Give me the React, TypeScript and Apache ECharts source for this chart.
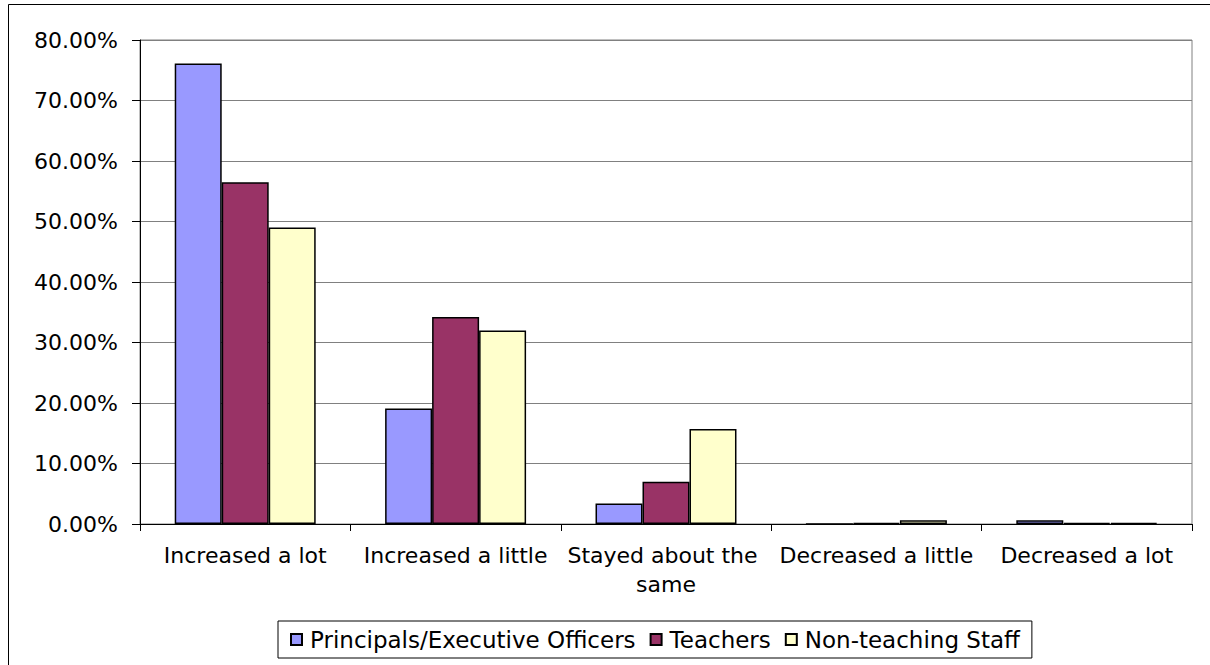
import React, { useEffect, useRef } from "react";
import * as echarts from "echarts";

const categories = [
  "Increased a lot",
  "Increased a little",
  "Stayed about the same",
  "Decreased a little",
  "Decreased a lot",
];
const principals = [76.1, 19.1, 3.4, 0, 0.6];
const teachers = [56.5, 34.2, 7.0, 0.2, 0.2];
const nonTeaching = [49.0, 32.0, 15.7, 0.6, 0.2];
const seriesNames = ["Principals/Executive Officers", "Teachers", "Non-teaching Staff"];
const seriesColors = ["#9999FF", "#993366", "#FFFFCC"];

const FONT = "DejaVu Sans";

export default function App() {
  const ref = useRef<HTMLDivElement>(null);
  useEffect(() => {
    document.body.style.margin = "0";
    const chart = echarts.init(ref.current!, undefined, { renderer: "svg" });
    const data = [principals, teachers, nonTeaching];
    chart.setOption({
      animation: false,
      backgroundColor: "#ffffff",
      textStyle: { fontFamily: FONT, color: "#000" },
      grid: {
        left: 140,
        right: 18,
        top: 40,
        bottom: 141,
        show: true,
        borderColor: "#808080",
        borderWidth: 1,
        backgroundColor: "transparent",
      },
      legend: {
        left: 278,
        top: 621,
        orient: "horizontal",
        data: seriesNames,
        itemWidth: 11,
        itemHeight: 11,
        itemGap: 14,
        padding: [7, 12, 7, 12],
        borderColor: "#000",
        borderWidth: 1,
        borderRadius: 0,
        textStyle: { fontFamily: FONT, fontSize: 23, color: "#000", padding: [0, 0, 0, 3] },
        icon: "rect",
      },
      xAxis: {
        type: "category",
        data: categories,
        axisLine: { show: true, lineStyle: { color: "#000", width: 1 } },
        axisTick: { show: true, length: 7, lineStyle: { color: "#000" } },
        axisLabel: {
          fontFamily: FONT,
          fontSize: 22,
          color: "#000",
          margin: 17,
          lineHeight: 29,
          width: 208,
          overflow: "break",
          interval: 0,
        },
      },
      yAxis: {
        type: "value",
        min: 0,
        max: 80,
        interval: 10,
        axisLine: { show: true, lineStyle: { color: "#000", width: 1 } },
        axisTick: { show: true, length: 8, lineStyle: { color: "#000" } },
        splitLine: { show: true, lineStyle: { color: "#808080", width: 1 } },
        axisLabel: {
          fontFamily: FONT,
          fontSize: 22,
          color: "#000",
          margin: 22,
          formatter: (v: number) => v.toFixed(2) + "%",
        },
      },
      series: seriesNames.map((name, i) => ({
        name,
        type: "bar",
        data: data[i],
        barGap: "0%",
        barCategoryGap: "33%",
        itemStyle: { color: seriesColors[i], borderColor: "#000", borderWidth: 1.5 },
      })),
      graphic: [
        {
          type: "line",
          shape: { x1: 8.5, y1: 4.5, x2: 1210, y2: 4.5 },
          style: { stroke: "#000", lineWidth: 1 },
          silent: true,
        },
        {
          type: "line",
          shape: { x1: 8.5, y1: 4.5, x2: 8.5, y2: 665 },
          style: { stroke: "#000", lineWidth: 1 },
          silent: true,
        },
      ],
    });
    return () => chart.dispose();
  }, []);
  return <div ref={ref} style={{ width: 1210, height: 665 }} />;
}
